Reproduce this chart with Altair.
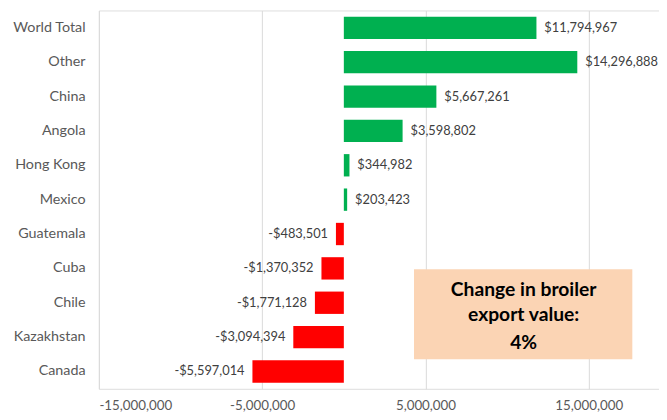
import altair as alt
import pandas as pd

countries = ["World Total", "Other", "China", "Angola", "Hong Kong", "Mexico",
             "Guatemala", "Cuba", "Chile", "Kazakhstan", "Canada"]
values = [11794967, 14296888, 5667261, 3598802, 344982, 203423,
          -483501, -1370352, -1771128, -3094394, -5597014]
x_ticks = [-15000000, -5000000, 5000000, 15000000]
note_lines = ["Change in broiler", "export value:", "4%"]

def money(v):
    return ("-$" if v < 0 else "$") + f"{abs(v):,}"

df = pd.DataFrame({
    "country": countries,
    "value": values,
    "label": [money(v) for v in values],
    "sign": ["pos" if v >= 0 else "neg" for v in values],
})

FONT = "Lato"
y_enc = alt.Y("country:N", sort=countries, title=None,
              scale=alt.Scale(paddingInner=0.35, paddingOuter=0.18),
              axis=alt.Axis(ticks=False, domain=False, labelPadding=14, minExtent=92,
                            labelFontSize=14.5, labelColor="#595959", labelFont=FONT))
x_enc = alt.X("value:Q", title=None,
              scale=alt.Scale(domain=[-15000000, 19300000], nice=False, zero=False),
              axis=alt.Axis(values=x_ticks, ticks=False, domain=False, grid=True,
                            gridColor="#d9d9d9", gridWidth=1, labelPadding=10,
                            labelFontSize=13.5, labelColor="#595959", labelFont=FONT,
                            labelExpr="datum.value < 0 ? '-' + format(-datum.value, ',') : format(datum.value, ',')"))

base = alt.Chart(df)

bars = base.mark_bar().encode(
    x=x_enc,
    x2=alt.datum(0),
    y=y_enc,
    color=alt.Color("sign:N", scale=alt.Scale(domain=["pos", "neg"], range=["#00B050", "#FF0000"]), legend=None),
)

pos_text = base.transform_filter("datum.value >= 0").mark_text(
    align="left", dx=8, fontSize=13, color="#404040", font=FONT
).encode(x="value:Q", y=alt.Y("country:N", sort=countries), text="label:N")

neg_text = base.transform_filter("datum.value < 0").mark_text(
    align="right", dx=-8, fontSize=13, color="#404040", font=FONT
).encode(x="value:Q", y=alt.Y("country:N", sort=countries), text="label:N")

note_df = pd.DataFrame({"line": note_lines, "ypos": [283, 308, 337]})
box = alt.Chart(pd.DataFrame({"a": [1]})).mark_rect(color="#FBD4B4").encode(
    x=alt.value(319), x2=alt.value(540), y=alt.value(262), y2=alt.value(353))
note = alt.Chart(note_df).mark_text(
    fontSize=19.5, fontWeight="bold", color="#000000", font=FONT, baseline="middle", align="center"
).encode(x=alt.value(430), y=alt.Y("ypos:Q", scale=None), text="line:N")

chart = alt.layer(bars, pos_text, neg_text, box, note).properties(
    width=567, height=383,
    padding={"left": 0, "top": 0, "right": 0, "bottom": 0},
).configure_view(fill="#F3F1EC", strokeWidth=0).configure(background="white")

chart.save("out.html", embed_options={"renderer": "svg", "actions": False})
